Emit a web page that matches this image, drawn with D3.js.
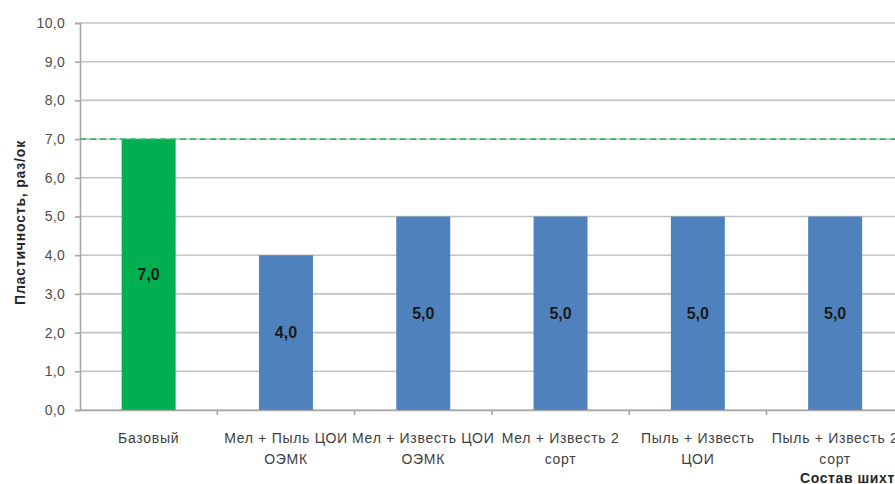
<!DOCTYPE html>
<html>
<head>
<meta charset="utf-8">
<script src="https://cdn.jsdelivr.net/npm/d3@7"></script>
<style>
  html, body { margin: 0; padding: 0; background: #fff; overflow: hidden; }
  svg { display: block; font-family: "Liberation Sans", Arial, sans-serif; }
</style>
</head>
<body>
<svg id="chart" width="895" height="484"></svg>
<script>
// Mixture compositions (two-line labels) and their plasticity values
const categories = [
  ["Базовый"],
  ["Мел + Пыль ЦОИ", "ОЭМК"],
  ["Мел + Известь ЦОИ", "ОЭМК"],
  ["Мел + Известь 2", "сорт"],
  ["Пыль + Известь", "ЦОИ"],
  ["Пыль + Известь 2", "сорт"]
];
const values = [7.0, 4.0, 5.0, 5.0, 5.0, 5.0];
const baseLevel = 7.0;               // reference level of the base mixture
const yTicks = d3.range(0, 10.01, 1);
const yTitle = "Пластичность,  раз/ок";
const xTitle = "Состав шихты";

const svg = d3.select("#chart");
const plotLeft = 80, plotTop = 23, plotBottom = 410, step = 137.3;
const fmt = d => d3.format(".1f")(d).replace(".", ",");

const x = d3.scaleBand()
  .domain(d3.range(categories.length))
  .range([plotLeft, plotLeft + step * categories.length])
  .paddingInner(0.607)
  .paddingOuter(0.3035);
const y = d3.scaleLinear().domain([0, 10]).range([plotBottom, plotTop]);

// horizontal gridlines
svg.append("g")
  .selectAll("line").data(yTicks).join("line")
  .attr("x1", plotLeft).attr("x2", 895)
  .attr("y1", d => y(d)).attr("y2", d => y(d))
  .attr("stroke", "#c4c4c4").attr("stroke-width", 1.6);

// y axis
const yAxis = svg.append("g")
  .attr("transform", `translate(${plotLeft},0)`)
  .call(d3.axisLeft(y).tickValues(yTicks).tickFormat(fmt).tickSize(5).tickPadding(10));
yAxis.select(".domain").attr("stroke", "#a6a6a6").attr("stroke-width", 1.6);
yAxis.selectAll(".tick line").attr("stroke", "#a6a6a6").attr("stroke-width", 1.6);
yAxis.selectAll(".tick text")
  .attr("fill", "#4d4d4d").attr("font-size", 14).attr("letter-spacing", 0.3)
  .attr("font-family", "Liberation Sans, Arial, sans-serif");

// bars
svg.append("g")
  .selectAll("rect").data(values).join("rect")
  .attr("x", (d, i) => x(i)).attr("width", x.bandwidth())
  .attr("y", d => y(d)).attr("height", d => y(0) - y(d))
  .attr("fill", (d, i) => i === 0 ? "#00b050" : "#4f81bd");

// x axis along zero
const xAxis = svg.append("g")
  .attr("transform", `translate(0,${plotBottom})`)
  .call(d3.axisBottom(x).tickValues([]).tickSizeOuter(0));
xAxis.select(".domain").attr("stroke", "#a6a6a6").attr("stroke-width", 1.6);
// category dividers below the axis
svg.append("g")
  .selectAll("line").data(d3.range(1, categories.length)).join("line")
  .attr("x1", i => plotLeft + step * i).attr("x2", i => plotLeft + step * i)
  .attr("y1", plotBottom).attr("y2", plotBottom + 5)
  .attr("stroke", "#a6a6a6").attr("stroke-width", 1.6);

// dashed base-level line
svg.append("line")
  .attr("x1", plotLeft).attr("x2", 895)
  .attr("y1", y(baseLevel)).attr("y2", y(baseLevel))
  .attr("stroke", "#2cc36b").attr("stroke-width", 1.8)
  .attr("stroke-dasharray", "6,4");

// value labels centred in each bar
svg.append("g")
  .selectAll("text").data(values).join("text")
  .attr("x", (d, i) => x(i) + x.bandwidth() / 2)
  .attr("y", d => (y(d) + y(0)) / 2)
  .attr("dy", "0.35em")
  .attr("text-anchor", "middle")
  .attr("font-size", 16).attr("font-weight", "bold").attr("fill", "#1a1a1a")
  .text(fmt);

// category labels
const cat = svg.append("g")
  .selectAll("text").data(categories).join("text")
  .attr("text-anchor", "middle")
  .attr("font-size", 14).attr("letter-spacing", 0.7).attr("fill", "#404040")
  .attr("transform", (d, i) => `translate(${x(i) + x.bandwidth() / 2},${plotBottom + 33})`);
cat.selectAll("tspan").data(d => d).join("tspan")
  .attr("x", 0).attr("dy", (d, j) => j === 0 ? 0 : 21)
  .text(d => d);

// axis titles
svg.append("text")
  .attr("transform", `translate(25,${(plotTop + plotBottom) / 2 + 6}) rotate(-90)`)
  .attr("text-anchor", "middle")
  .attr("font-size", 14).attr("letter-spacing", 0.8).attr("font-weight", "bold").attr("fill", "#262626")
  .text(yTitle);
svg.append("text")
  .attr("x", 800).attr("y", 483)
  .attr("font-size", 14).attr("letter-spacing", 0.6).attr("font-weight", "bold").attr("fill", "#262626")
  .text(xTitle);
</script>
</body>
</html>
